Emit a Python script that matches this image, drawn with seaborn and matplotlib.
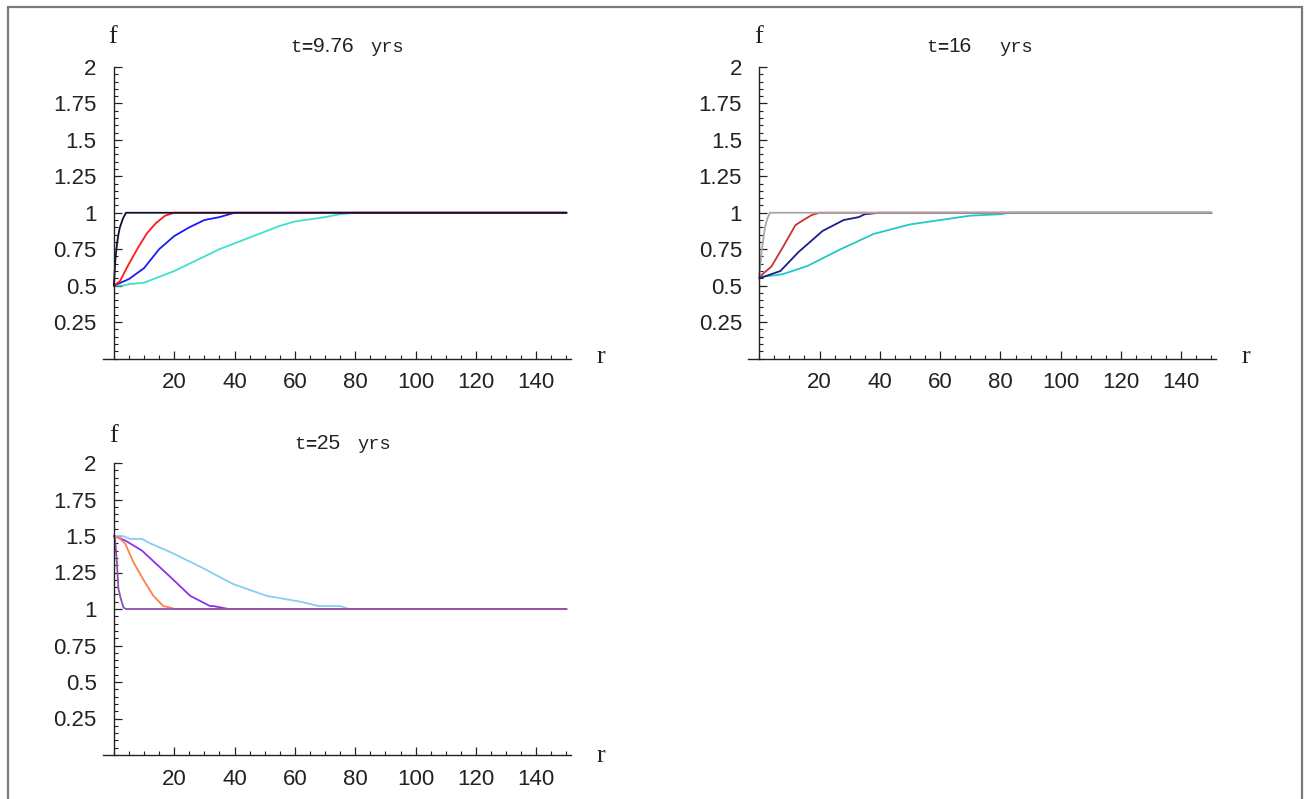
import numpy as np
import pandas as pd
import matplotlib
matplotlib.use("Agg")
import matplotlib.pyplot as plt
from matplotlib.patches import Rectangle
from matplotlib.ticker import MultipleLocator
import seaborn as sns

# ---- profiles f(r) at three epochs ----
# t = 9.76 yrs
r_p1_black = [0, 0.5, 1, 1.5, 2, 2.5, 3, 3.5, 4, 150]
f_p1_black = [0.5, 0.68, 0.78, 0.85, 0.9, 0.93, 0.96, 0.98, 1.0, 1.0]
r_p1_red = [0, 2, 5, 8, 11, 14, 17, 20, 150]
f_p1_red = [0.5, 0.53, 0.65, 0.76, 0.86, 0.93, 0.98, 1.0, 1.0]
r_p1_blue = [0, 5, 10, 15, 20, 25, 30, 35, 40, 150]
f_p1_blue = [0.5, 0.545, 0.62, 0.75, 0.84, 0.9, 0.95, 0.97, 1.0, 1.0]
r_p1_cyan = [0, 3, 5, 10, 15, 20, 25, 30, 35, 40, 45, 50, 55, 60, 65, 70, 75, 80, 150]
f_p1_cyan = [0.5, 0.5, 0.51, 0.52, 0.56, 0.6, 0.65, 0.7, 0.75, 0.79, 0.83, 0.87,
             0.91, 0.94, 0.955, 0.97, 0.99, 1.0, 1.0]

# t = 16 yrs
r_p2_gray = [0, 0.8, 1.9, 2.7, 3.5, 150]
f_p2_gray = [0.56, 0.74, 0.9, 0.96, 1.0, 1.0]
r_p2_red = [0, 4, 8, 12, 15, 17.5, 20, 150]
f_p2_red = [0.56, 0.63, 0.77, 0.915, 0.955, 0.985, 1.0, 1.0]
r_p2_navy = [0, 7, 13, 21, 28, 33, 35, 40, 150]
f_p2_navy = [0.55, 0.6, 0.73, 0.875, 0.95, 0.97, 0.99, 1.0, 1.0]
r_p2_cyan = [0, 5, 8, 16, 27, 38, 50, 60, 70, 80, 83, 150]
f_p2_cyan = [0.56, 0.57, 0.58, 0.635, 0.75, 0.855, 0.92, 0.95, 0.98, 0.99, 1.0, 1.0]

# t = 25 yrs
r_p3_mauve = [0, 0.4, 1, 1.5, 2.3, 3.2, 4, 150]
f_p3_mauve = [1.5, 1.48, 1.32, 1.14, 1.07, 1.01, 1.0, 1.0]
r_p3_coral = [0, 1.5, 3.7, 6.5, 9.8, 13.1, 16.4, 18.7, 20, 150]
f_p3_coral = [1.5, 1.49, 1.45, 1.32, 1.2, 1.09, 1.02, 1.01, 1.0, 1.0]
r_p3_purple = [0, 3.7, 9.3, 18.7, 25.3, 31.9, 33, 38, 150]
f_p3_purple = [1.5, 1.47, 1.40, 1.22, 1.09, 1.02, 1.02, 1.0, 1.0]
r_p3_sky = [0, 3, 5.4, 9.3, 12, 18.7, 28.6, 39.6, 50.7, 61.8, 68, 75, 78, 150]
f_p3_sky = [1.5, 1.5, 1.48, 1.48, 1.45, 1.39, 1.29, 1.17, 1.09, 1.05, 1.02, 1.02, 1.0, 1.0]

epochs = ["9.76", "16", "25"]
x_ticks = [20, 40, 60, 80, 100, 120, 140]
y_ticks = [0.25, 0.5, 0.75, 1, 1.25, 1.5, 1.75, 2]
y_tick_labels = ["0.25", "0.5", "0.75", "1", "1.25", "1.5", "1.75", "2"]

# drawn back to front: the widest profile first, the sharpest last
panels = [
    [("d", r_p1_cyan, f_p1_cyan, "#40e0d0"),
     ("c", r_p1_blue, f_p1_blue, "#1a1aff"),
     ("b", r_p1_red, f_p1_red, "#ff1a1a"),
     ("a", r_p1_black, f_p1_black, "#101030")],
    [("d", r_p2_cyan, f_p2_cyan, "#20c8c8"),
     ("c", r_p2_navy, f_p2_navy, "#1c1c8c"),
     ("b", r_p2_red, f_p2_red, "#c83232"),
     ("a", r_p2_gray, f_p2_gray, "#a8a8a8")],
    [("d", r_p3_sky, f_p3_sky, "#87cef0"),
     ("c", r_p3_purple, f_p3_purple, "#9030ee"),
     ("b", r_p3_coral, f_p3_coral, "#ff8048"),
     ("a", r_p3_mauve, f_p3_mauve, "#9050b0")],
]

sns.set_style("white")
plt.rcParams["font.family"] = ["Liberation Sans", "DejaVu Sans"]

W, H = 1309, 799
fig = plt.figure(figsize=(W / 100, H / 100), dpi=100)

# axes boxes in pixels: (left, top, right, bottom)
boxes = [(103, 67, 571, 358.5), (748.4, 67, 1216, 358.5), (103, 463, 571, 755)]
label_pos = [  # (f label, r label, (title start, title end, baseline)) in pixels
    ((113, 37), (601, 357), (290, 404, 52)),
    ((759, 37), (1246, 357), (926, 1033, 52)),
    ((114, 436), (601, 756), (294, 391, 449)),
]

mono = ["Liberation Mono", "DejaVu Sans Mono"]
serif = ["Liberation Serif", "DejaVu Serif"]
sans = ["Liberation Sans", "DejaVu Sans"]
ink = "#222222"

fig.canvas.draw()
renderer = fig.canvas.get_renderer()


def title_line(x0, x1, yb, epoch):
    """'t=<epoch>' from x0, unit flush right at x1, on baseline yb."""
    x = x0
    for s, fam, wt, size in [("t", mono, "normal", 13.5), ("=", mono, "bold", 13.5),
                             (epoch, sans, "normal", 15)]:
        t = fig.text(x / W, 1 - yb / H, s, family=fam, fontweight=wt,
                     fontsize=size, ha="left", va="baseline", color=ink)
        x += t.get_window_extent(renderer=renderer).width
    fig.text(x1 / W, 1 - yb / H, "yrs", family=mono, fontsize=13.5,
             ha="right", va="baseline", color=ink)


for box, series, epoch, (fp, rp, tp) in zip(boxes, panels, epochs, label_pos):
    l, t, r, b = box
    ax = fig.add_axes([l / W, 1 - b / H, (r - l) / W, (b - t) / H])
    frames = []
    for key, rr, ff, col in series:
        frames.append(pd.DataFrame({"r": rr, "f": ff, "s": key}))
    df = pd.concat(frames, ignore_index=True)
    pal = {key: col for key, _, _, col in series}
    sns.lineplot(data=df, x="r", y="f", hue="s", palette=pal, sort=False,
                 hue_order=[k for k, _, _, _ in series],
                 estimator=None, legend=False, linewidth=1.3, ax=ax)
    ax.set_xlim(-3.6, 151.5)
    ax.set_ylim(0, 2)
    ax.set_xlabel("")
    ax.set_ylabel("")
    ax.patch.set_alpha(0)
    for s in ["top", "right"]:
        ax.spines[s].set_visible(False)
    ax.spines["left"].set_position(("data", 0))
    ax.spines["bottom"].set_position(("data", 0))
    for s in ["left", "bottom"]:
        ax.spines[s].set_color(ink)
        ax.spines[s].set_linewidth(1.0)
    ax.set_xticks(x_ticks)
    ax.set_yticks(y_ticks)
    ax.set_yticklabels(y_tick_labels)
    ax.xaxis.set_minor_locator(MultipleLocator(5))
    ax.yaxis.set_minor_locator(MultipleLocator(0.05))
    ax.tick_params(which="major", direction="in", length=6, width=0.9,
                   color=ink, labelsize=16, labelcolor=ink)
    ax.tick_params(which="minor", direction="in", length=3, width=0.8,
                   color=ink)
    ax.tick_params(axis="y", which="both", left=True)
    ax.tick_params(axis="x", which="both", bottom=True)
    ax.tick_params(axis="y", which="major", pad=12.5)
    ax.tick_params(axis="x", which="major", pad=10)

    fig.text(fp[0] / W, 1 - fp[1] / H, "f", family=serif, fontsize=19,
             ha="center", va="center", color=ink)
    fig.text(rp[0] / W, 1 - rp[1] / H, "r", family=serif, fontsize=19,
             ha="center", va="center", color=ink)
    title_line(tp[0], tp[1], tp[2], epoch)

# outer frame of the graphic
fig.patches.append(Rectangle((8 / W, -0.05), (1302 - 8) / W, 1 - 7 / H + 0.05,
                             transform=fig.transFigure, fill=False,
                             edgecolor="#7a7a7a", linewidth=1.6, zorder=10))

fig.savefig("out.png", dpi=100)
